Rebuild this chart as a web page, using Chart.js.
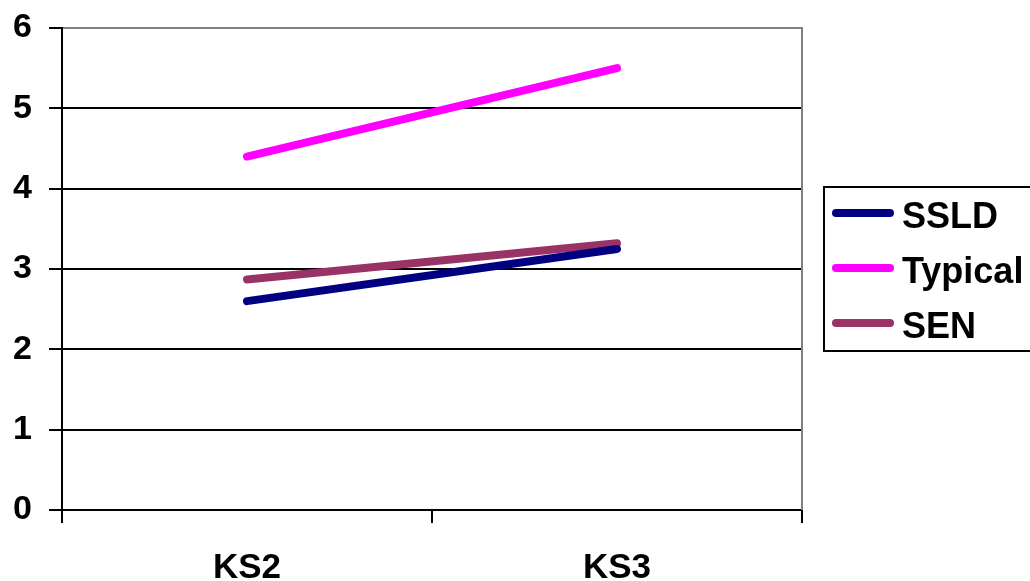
<!DOCTYPE html>
<html>
<head>
<meta charset="utf-8">
<style>
  html, body { margin: 0; padding: 0; background: #ffffff; }
  #wrap { width: 1030px; height: 581px; position: relative; }
</style>
<script src="https://cdn.jsdelivr.net/npm/chart.js@4/dist/chart.umd.min.js"></script>
</head>
<body>
<div id="wrap"><canvas id="c" width="1030" height="581"></canvas></div>
<script>
// Key stages on the category axis
const stages = ['KS2', 'KS3'];

// Mean scores per group at each key stage
const ssld    = [2.6, 3.25];
const typical = [4.4, 5.5];
const sen     = [2.87, 3.32];

// Value axis ticks
const yTicks = [0, 1, 2, 3, 4, 5, 6];

const FONT = "'Liberation Sans', Arial, sans-serif";

// Grey frame on the right edge of the plot area
const frame = {
  id: 'frame',
  beforeDatasetsDraw(chart) {
    const { ctx, chartArea: a } = chart;
    ctx.save();
    ctx.strokeStyle = '#808080';
    ctx.lineWidth = 2;
    ctx.beginPath();
    ctx.moveTo(a.right, a.top - 1);
    ctx.lineTo(a.right, a.bottom);
    ctx.stroke();
    ctx.restore();
  }
};

// Boxed legend on the right
const boxLegend = {
  id: 'boxLegend',
  afterDraw(chart) {
    const { ctx } = chart;
    const left = 824, top = 187, right = 1040, bottom = 351;
    ctx.save();
    ctx.strokeStyle = '#000';
    ctx.lineWidth = 2;
    ctx.strokeRect(left, top, right - left, bottom - top);
    const rowY = [213, 268, 323];
    ctx.font = 'bold 36px ' + FONT;
    ctx.textAlign = 'left';
    ctx.textBaseline = 'alphabetic';
    chart.data.datasets.forEach((ds, i) => {
      const y = rowY[i];
      ctx.strokeStyle = ds.borderColor;
      ctx.lineWidth = 8;
      ctx.lineCap = 'round';
      ctx.beginPath();
      ctx.moveTo(836, y);
      ctx.lineTo(890, y);
      ctx.stroke();
      ctx.fillStyle = '#000';
      ctx.fillText(ds.label, 902, y + 15);
    });
    ctx.restore();
  }
};

new Chart(document.getElementById('c'), {
  type: 'line',
  data: {
    labels: stages,
    datasets: [
      { label: 'SSLD',    data: ssld,    borderColor: '#000080' },
      { label: 'Typical', data: typical, borderColor: '#FF00FF' },
      { label: 'SEN',     data: sen,     borderColor: '#993366' }
    ].map(d => Object.assign(d, {
      borderWidth: 8,
      borderCapStyle: 'round',
      borderJoinStyle: 'round',
      pointRadius: 0,
      pointHoverRadius: 0,
      fill: false,
      tension: 0
    }))
  },
  options: {
    responsive: false,
    animation: false,
    devicePixelRatio: 1,
    layout: { padding: { left: 0, top: 28, right: 228, bottom: 0 } },
    plugins: {
      legend: { display: false },
      tooltip: { enabled: false }
    },
    scales: {
      x: {
        offset: true,
        grid: {
          offset: true,
          drawOnChartArea: false,
          drawTicks: true,
          tickLength: 13,
          color: '#000',
          lineWidth: 2
        },
        border: { display: true, color: '#000', width: 2 },
        ticks: {
          color: '#000',
          font: { family: FONT, size: 35, weight: 'bold' },
          padding: 24,
          maxRotation: 0
        },
        afterFit(scale) {
          scale.height = 71;
          scale.paddingLeft = 0;
          scale.paddingRight = 0;
        }
      },
      y: {
        min: 0,
        max: 6,
        afterBuildTicks(scale) { scale.ticks = yTicks.map(v => ({ value: v })); },
        grid: {
          drawTicks: true,
          tickLength: 13,
          color: ctx => (ctx.tick && ctx.tick.value === 6) ? '#808080' : '#000',
          tickColor: '#000',
          lineWidth: 2
        },
        border: { display: true, color: '#000', width: 2 },
        ticks: {
          color: '#000',
          font: { family: FONT, size: 34, weight: 'bold' },
          padding: 17,
          callback: v => String(v)
        },
        afterFit(scale) {
          scale.width = 62;
          scale.paddingTop = 0;
          scale.paddingBottom = 0;
        }
      }
    }
  },
  plugins: [frame, boxLegend]
});
</script>
</body>
</html>
